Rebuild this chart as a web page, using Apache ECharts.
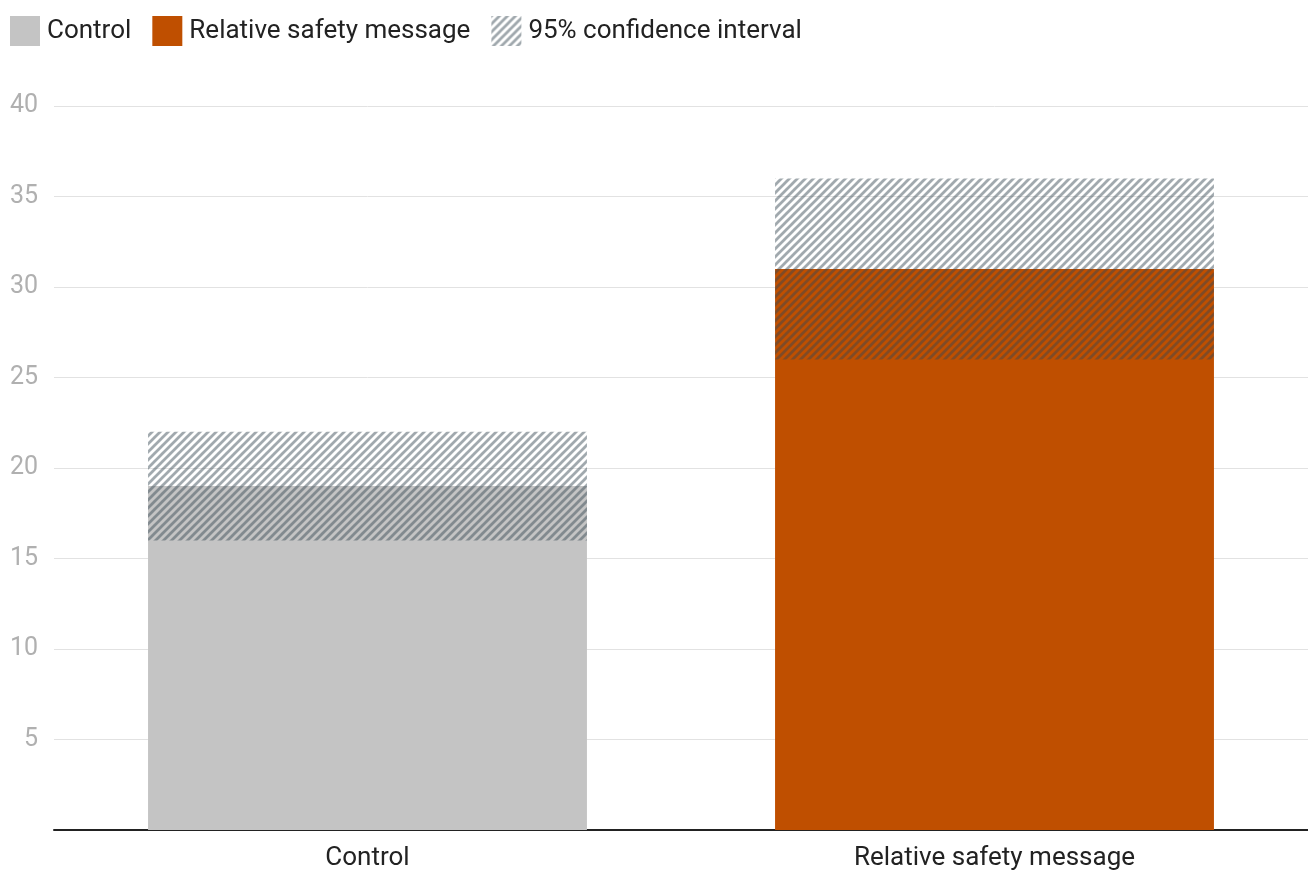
<!DOCTYPE html>
<html>
<head>
<meta charset="utf-8">
<script src="https://cdn.jsdelivr.net/npm/echarts@6/dist/echarts.min.js"></script>
<style>html,body{margin:0;padding:0;background:#fff}#c{width:1308px;height:870px}</style>
</head>
<body>
<div id="c"></div>
<script>
var categories = ['Control', 'Relative safety message'];
var controlValues = [19, null];
var messageValues = [null, 31];
var ciLow = [16, 26];
var ciHigh = [22, 36];
var seriesNames = ['Control', 'Relative safety message', '95% confidence interval'];

function makePattern() {
  var s = 8;
  var c = document.createElement('canvas');
  c.width = s; c.height = s;
  var ctx = c.getContext('2d');
  ctx.strokeStyle = 'rgba(55,72,82,0.47)';
  ctx.lineWidth = 2.8;
  ctx.lineCap = 'square';
  [[-s, s, s, -s], [0, s, s, 0], [0, 2 * s, 2 * s, 0]].forEach(function (l) {
    ctx.beginPath();
    ctx.moveTo(l[0], l[1]);
    ctx.lineTo(l[2], l[3]);
    ctx.stroke();
  });
  return c;
}
var pattern = { image: makePattern(), repeat: 'repeat' };

var ciBase = ciLow.slice();
var ciRange = ciHigh.map(function (h, i) { return h - ciLow[i]; });

var chart = echarts.init(document.getElementById('c'), null, { renderer: 'canvas' });
var font = 'Roboto, "Noto Sans", sans-serif';
chart.setOption({
  animation: false,
  textStyle: { fontFamily: font },
  legend: {
    left: 10, top: 16, padding: 0,
    itemWidth: 30, itemHeight: 30, itemGap: 21,
    icon: 'rect',
    data: seriesNames,
    textStyle: { fontSize: 26, color: '#222', fontFamily: font, padding: [0, 0, 0, 2] }
  },
  grid: { left: 54, right: 0, top: 106, bottom: 40, containLabel: false, outerBoundsMode: 'none' },
  xAxis: {
    type: 'category',
    data: categories,
    axisLine: { lineStyle: { color: '#222', width: 2 } },
    axisTick: { show: false },
    axisLabel: { fontSize: 26, color: '#222', margin: 15, fontFamily: font }
  },
  yAxis: {
    type: 'value', min: 0, max: 40, interval: 5,
    axisLine: { show: false },
    axisTick: { show: false },
    splitLine: { lineStyle: { color: '#e2e2e2', width: 1 } },
    axisLabel: {
      fontSize: 25, color: '#b0b0b0', margin: 16, fontFamily: font,
      formatter: function (v) { return v === 0 ? '' : v; }
    }
  },
  series: [
    { name: seriesNames[0], type: 'bar', data: controlValues, barWidth: '70%', barGap: '-100%',
      itemStyle: { color: '#c4c4c4' } },
    { name: seriesNames[1], type: 'bar', data: messageValues, barWidth: '70%', barGap: '-100%',
      itemStyle: { color: '#bf4f00' } },
    { name: 'ciBase', type: 'bar', stack: 'ci', data: ciBase, barWidth: '70%', barGap: '-100%',
      itemStyle: { color: 'rgba(0,0,0,0)' }, silent: true },
    { name: seriesNames[2], type: 'bar', stack: 'ci', data: ciRange, barWidth: '70%', barGap: '-100%',
      itemStyle: { color: pattern } }
  ]
});
</script>
</body>
</html>
